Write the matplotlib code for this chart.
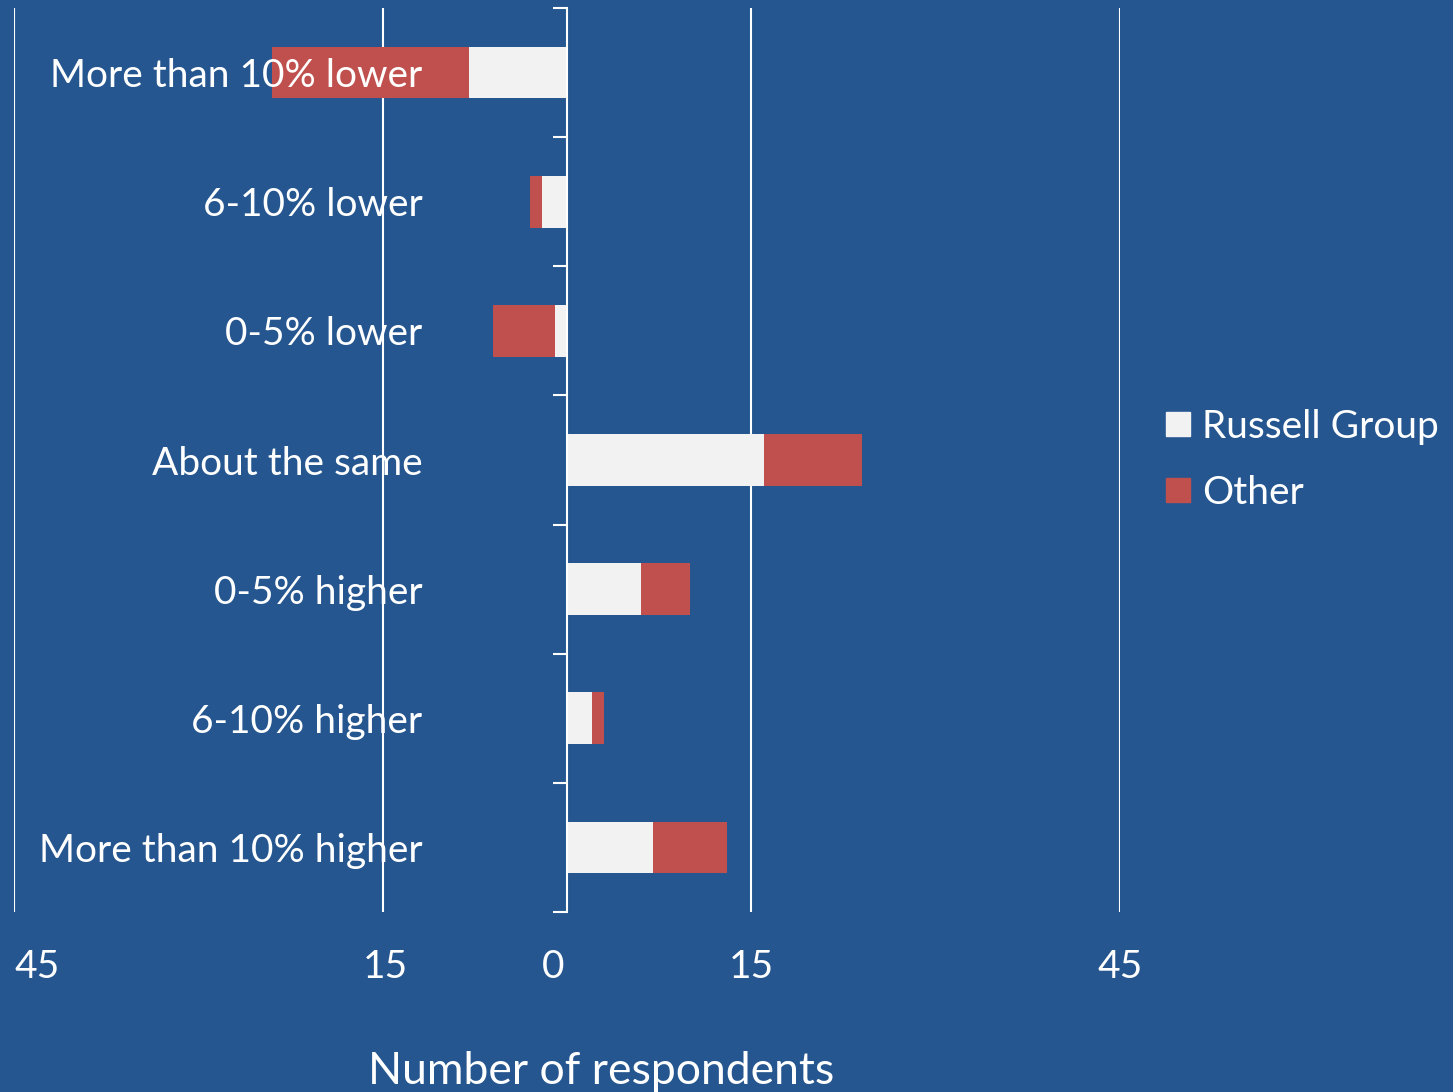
import matplotlib
matplotlib.use("Agg")
import matplotlib.pyplot as plt
from matplotlib.lines import Line2D
from matplotlib import transforms

categories = ["More than 10% lower", "6-10% lower", "0-5% lower", "About the same",
              "0-5% higher", "6-10% higher", "More than 10% higher"]
russell = [-8, -2, -1, 16, 6, 2, 7]
other = [-16, -1, -5, 8, 4, 1, 6]
xticks = [-45, -15, 0, 15, 45]
xticklabels = ["45", "15", "0", "15", "45"]

BG = "#25568F"
WHITE = "#F2F2F2"
RED = "#C0504D"
FONT = "Lato"
FS = 28

plt.rcParams['font.family'] = [FONT, 'DejaVu Sans']

fig = plt.figure(figsize=(14.53, 10.92), dpi=100)
fig.patch.set_facecolor(BG)
ax = fig.add_axes([14/1453, 1-912/1092, (1120-14)/1453, (912-8)/1092])
ax.set_facecolor(BG)

y = list(range(len(categories)))
ax.barh(y, russell, height=0.4, color=WHITE, zorder=2, label="Russell Group")
ax.barh(y, other, left=russell, height=0.4, color=RED, zorder=2, label="Other")

ax.set_xlim(-45, 45)
ax.set_ylim(len(categories) - 0.5, -0.5)

for s in ["top", "right", "bottom"]:
    ax.spines[s].set_visible(False)
ax.spines["left"].set_position(("data", 0))
ax.spines["left"].set_color("white")
ax.spines["left"].set_linewidth(1.5)
ax.spines["left"].set_zorder(3)

ax.set_yticks(y)
ax.set_yticklabels(categories)
ax.set_yticks([i - 0.5 for i in range(len(categories) + 1)], minor=True)
ax.tick_params(axis="y", which="major", length=0, pad=104, labelsize=FS, labelcolor="white")
ax.tick_params(axis="y", which="minor", length=10, width=1.5, color="white", direction="out")

ax.set_xticks(xticks)
ax.set_xticklabels(xticklabels)
ax.tick_params(axis="x", which="major", length=0, pad=27, labelsize=FS, labelcolor="white")
xl = ax.get_xticklabels()
xl[0].set_ha("left")
xl[2].set_transform(xl[2].get_transform() + transforms.ScaledTranslation(-14/100, 0, fig.dpi_scale_trans))
xl[1].set_transform(xl[1].get_transform() + transforms.ScaledTranslation(3/100, 0, fig.dpi_scale_trans))

for v in [-45, -15, 15, 45]:
    ax.axvline(v, color="white", linewidth=1.5, zorder=1)

ax.set_axisbelow(False)

fig.text(601/1453, 1-1072/1092, "Number of respondents", color="white", fontsize=32,
         ha="center", va="center")

handles = [Line2D([], [], marker="s", linestyle="none", markersize=17, color=WHITE),
           Line2D([], [], marker="s", linestyle="none", markersize=17, color=RED)]
leg = fig.legend(handles, ["Russell Group", "Other"], loc="center left",
                 bbox_to_anchor=(1162/1453, 1-460/1092), frameon=False, borderpad=0,
                 borderaxespad=0,
                 fontsize=FS, labelcolor="white", handlelength=0.8, handletextpad=0.22,
                 labelspacing=0.77)

fig.savefig("out.png", dpi=100, facecolor=BG)
